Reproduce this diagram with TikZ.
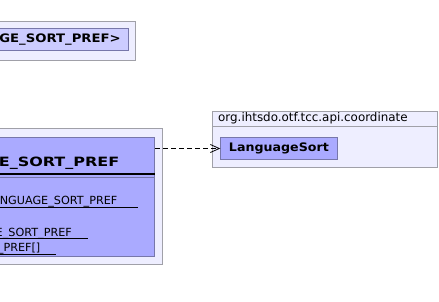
\documentclass[tikz,border=0pt]{standalone}
\usepackage{fontspec}
\setmainfont{DejaVu Sans}
% widened faces, to fit the glyph widths of the graph renderer
\newfontfamily\clsnamefont[FakeStretch=1.08]{DejaVu Sans}
\newfontfamily\reffont[FakeStretch=1.13]{DejaVu Sans}
\newfontfamily\titlefont[FakeStretch=1.25]{DejaVu Sans}
\usetikzlibrary{arrows.meta}

\definecolor{pkgfill}{HTML}{EEEEFF}
\definecolor{pkgline}{HTML}{A0A0A8}
\definecolor{clsfill}{HTML}{AAAAFF}
\definecolor{reffill}{HTML}{CCCCFF}
\definecolor{clsline}{HTML}{7777AA}

\begin{document}
\begin{tikzpicture}[x=1pt,y=-1pt,
        outer/.style={draw=pkgline,fill=pkgfill,anchor=north west,inner sep=0,line width=1pt},
        inner/.style={draw=clsline,fill=clsfill,anchor=north west,inner sep=0,line width=1pt},
        txt/.style={inner sep=0,font=\fontsize{11.2}{14}\selectfont},
        uline/.style={line width=1pt}]
    \useasboundingbox (0,0) rectangle (439,302);
    \clip (0,0) rectangle (439,302);

    % enclosing enum
    \node[outer,minimum width=174.5pt,minimum height=39pt] at (-40,21) (enumo) {};
    \node[inner,fill=reffill,minimum width=167.7pt,minimum height=21.7pt] at (-40,28) (enumi) {};
    \node[txt,font=\reffont\fontsize{11.7}{14}\selectfont\bfseries,anchor=base east] at (121,43) (enumname) {GE\_SORT\_PREF>};

    % the enum class itself
    \node[outer,minimum width=202.3pt,minimum height=135.7pt] at (-40,128.3) (clso) {};
    \node[inner,minimum width=194.3pt,minimum height=119.3pt] at (-40,136.7) (cls) {};
    \node[txt,font=\titlefont\fontsize{12.8}{16}\selectfont\bfseries,anchor=base east] at (119.5,166.7) (clsname) {E\_SORT\_PREF};
    \draw[line width=2pt] (-40,174) -- (cls.east |- 0,174);
    \draw[clsline,line width=1pt] (-40,177) -- (cls.east |- 0,177);

    % static members, underlined
    \node[txt,anchor=base east] at (117.5,204.5) (f1) {NGUAGE\_SORT\_PREF};
    \draw[uline] (-40,207.5) -- (137.7,207.5);
    \node[txt,anchor=base east] at (72,236) (m1) {E\_SORT\_PREF};
    \draw[uline] (-40,238.5) -- (88,238.5);
    \node[txt,anchor=base east] at (40.5,251.5) (m2) {\_PREF[]};
    \draw[uline] (-40,254) -- (56,254);

    % package with the interface
    \node[outer,minimum width=224.2pt,minimum height=55.5pt] at (212.3,111) (pkg) {};
    \draw[pkgline,line width=1pt] (pkg.west |- 0,126.7) -- (pkg.east |- 0,126.7);
    \node[txt,font=\fontsize{11.9}{14}\selectfont,anchor=base west] at (218,122) (pkgname) {org.ihtsdo.otf.tcc.api.coordinate};
    \node[inner,font=\clsnamefont\fontsize{11.7}{14}\selectfont\bfseries,minimum width=116.2pt,minimum height=22.6pt] at (220.3,136.7) (ls) {LanguageSort};

    \draw[line width=0.8pt,dash pattern=on 5pt off 3pt,-{Straight Barb[length=9pt,width=8pt]}] (cls.east |- ls.west) -- (ls.west);
\end{tikzpicture}
\end{document}
